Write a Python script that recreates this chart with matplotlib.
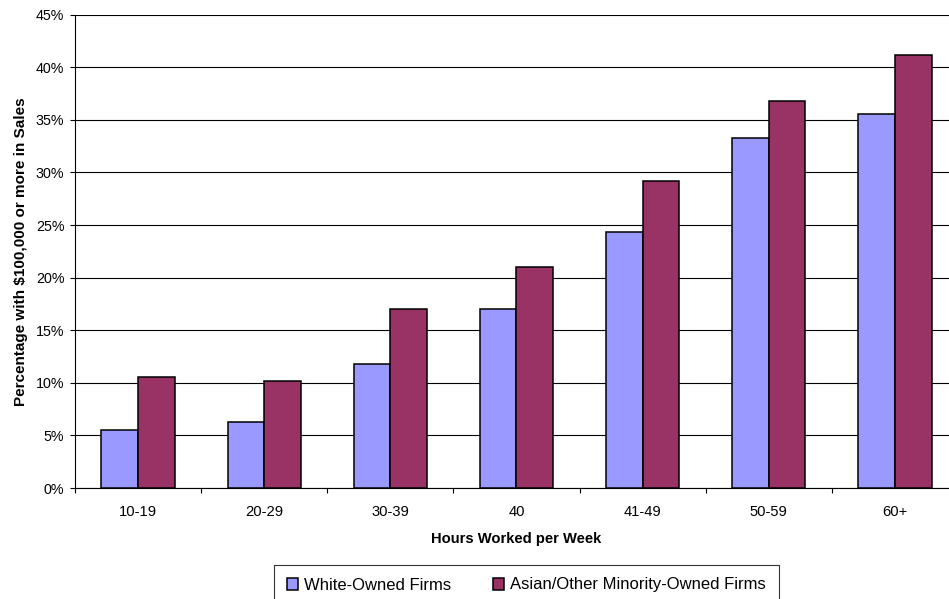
import matplotlib
matplotlib.use("Agg")
import matplotlib.pyplot as plt
import numpy as np
from matplotlib.ticker import FixedLocator, PercentFormatter

plt.rcParams["font.family"] = ["Liberation Sans", "DejaVu Sans"]

# share of firms with $100,000+ in sales, by weekly hours worked
hours = ["10-19", "20-29", "30-39", "40", "41-49", "50-59", "60+"]
white_owned = [5.5, 6.3, 11.8, 17.0, 24.3, 33.3, 35.6]
minority_owned = [10.6, 10.2, 17.0, 21.0, 29.2, 36.8, 41.2]

WHITE_COLOR = "#9999FF"
MINORITY_COLOR = "#993366"

fig = plt.figure(figsize=(9.49, 5.99), dpi=100)
ax = fig.add_axes([0.079, 0.1853, 0.9305, 0.7902])

x = np.arange(len(hours))
w = 0.29
ax.bar(x - w / 2, white_owned, w, color=WHITE_COLOR, edgecolor="black",
       linewidth=1.1, label="White-Owned Firms", zorder=3)
ax.bar(x + w / 2, minority_owned, w, color=MINORITY_COLOR, edgecolor="black",
       linewidth=1.1, label="Asian/Other Minority-Owned Firms", zorder=3)

ax.set_xlim(-0.5, len(hours) - 0.5)
ax.set_ylim(0, 45)
ax.set_yticks(np.arange(0, 46, 5))
ax.yaxis.set_major_formatter(PercentFormatter(decimals=0))
ax.grid(axis="y", color="black", linewidth=0.8, zorder=0)

# labels sit under the groups, tick marks between them
ax.set_xticks(x)
ax.set_xticklabels(hours)
ax.xaxis.set_minor_locator(FixedLocator(np.arange(-0.5, len(hours), 1.0)))
ax.tick_params(axis="x", which="major", length=0, pad=12.5, labelsize=10.6)
ax.tick_params(axis="x", which="minor", length=3.6, width=0.8)
ax.tick_params(axis="y", length=3.6, width=0.8, pad=4, labelsize=10.3)

for side in ("top", "right"):
    ax.spines[side].set_visible(False)
for side in ("left", "bottom"):
    ax.spines[side].set_linewidth(0.8)

ax.set_xlabel("Hours Worked per Week", fontsize=10.6, fontweight="bold", labelpad=9)
ax.set_ylabel("Percentage with $100,000 or more in Sales", fontsize=11,
              fontweight="bold", labelpad=6)

leg = fig.legend(loc="upper left", bbox_to_anchor=(274 / 949, 1 - 565 / 599),
                 ncol=2, fontsize=12, frameon=True, fancybox=False,
                 edgecolor="black", handlelength=0.7, handleheight=0.7,
                 handletextpad=0.35, columnspacing=2.5, borderpad=0.75,
                 borderaxespad=0)
leg.get_frame().set_linewidth(0.8)

fig.savefig("out.png", dpi=100)
